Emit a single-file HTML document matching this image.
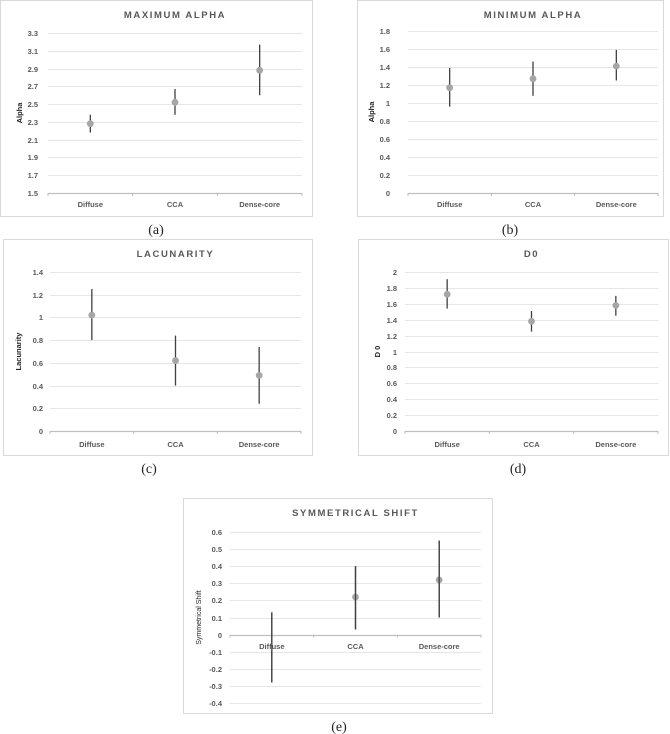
<!DOCTYPE html>
<html><head><meta charset="utf-8">
<style>
html,body{margin:0;padding:0;background:#fff;}
body{width:670px;height:734px;position:relative;overflow:hidden;font-family:"Liberation Sans",sans-serif;}
svg{position:absolute;left:0;top:0;}
.cap{font-family:"Liberation Serif",serif;font-size:14px;fill:#222;}
</style></head>
<body>
<svg id="chart" width="670" height="734" viewBox="0 0 670 734"></svg>
<script>
const categories = ["Diffuse","CCA","Dense-core"];
const maxAlphaMean = [2.28, 2.52, 2.88];
const maxAlphaLow  = [2.18, 2.38, 2.60];
const maxAlphaHigh = [2.38, 2.67, 3.17];
const maxAlphaTicks = ["1.5","1.7","1.9","2.1","2.3","2.5","2.7","2.9","3.1","3.3"];
const minAlphaMean = [1.17, 1.27, 1.41];
const minAlphaLow  = [0.96, 1.08, 1.25];
const minAlphaHigh = [1.39, 1.46, 1.59];
const minAlphaTicks = ["0","0.2","0.4","0.6","0.8","1","1.2","1.4","1.6","1.8"];
const lacMean = [1.02, 0.62, 0.49];
const lacLow  = [0.80, 0.40, 0.24];
const lacHigh = [1.25, 0.84, 0.74];
const lacTicks = ["0","0.2","0.4","0.6","0.8","1","1.2","1.4"];
const d0Mean = [1.72, 1.38, 1.58];
const d0Low  = [1.54, 1.25, 1.45];
const d0High = [1.91, 1.51, 1.70];
const d0Ticks = ["0","0.2","0.4","0.6","0.8","1","1.2","1.4","1.6","1.8","2"];
const symMean = [-0.07, 0.22, 0.32];
const symLow  = [-0.28, 0.03, 0.10];
const symHigh = [0.13, 0.40, 0.55];
const symTicks = ["-0.4","-0.3","-0.2","-0.1","0","0.1","0.2","0.3","0.4","0.5","0.6"];

const NS="http://www.w3.org/2000/svg";
const svg=document.getElementById('chart');
function mk(tag,attrs,parent,text){const e=document.createElementNS(NS,tag);for(const k in attrs)e.setAttribute(k,attrs[k]);if(text!==undefined)e.textContent=text;(parent||svg).appendChild(e);return e;}

function panel(cfg){
  const g=mk('g',{});
  
  
  const b=mk('rect',{x:cfg.box[0]+0.5,y:cfg.box[1]+0.5,width:cfg.box[2]-cfg.box[0],height:cfg.box[3]-cfg.box[1],fill:'#fff',stroke:'#d9d9d9','stroke-width':1},g);
  
  
  const t=mk('text',{x:(cfg.px0+cfg.px1)/2,y:cfg.titleY,'text-anchor':'middle','font-size':'9.5','font-weight':'bold','letter-spacing':'1.6',fill:'#595959'},g,cfg.title);
  
  
  const ticks=cfg.ticks.map(Number);
  const vmin=ticks[0], vmax=ticks[ticks.length-1];
  const y=v=>cfg.yBot-(v-vmin)/(vmax-vmin)*(cfg.yBot-cfg.yTop);
  const n=categories.length, bw=(cfg.px1-cfg.px0)/n;
  const x=i=>cfg.px0+bw*(i+0.5);
  cfg.ticks.forEach((lab,i)=>{
    const v=ticks[i], yy=Math.round(y(v))+0.5;
    const isBase = cfg.base!==undefined ? v===cfg.base : i===0;
    const l=mk('line',{x1:cfg.px0,x2:cfg.px1,y1:yy,y2:yy,stroke:isBase?'#bfbfbf':'#e6e6e6','stroke-width':isBase?1.2:1},g);
    
    
    const tl=mk('text',{x:cfg.tickX,y:yy+2.5,'text-anchor':'end','font-size':'7.5','font-weight':'bold',fill:'#595959'},g,lab);
    
    
  });
  const yt=mk('text',{x:cfg.yTitleX,y:(cfg.yTop+cfg.yBot)/2,'text-anchor':'middle','font-size':cfg.yTitleSize||'7.5','font-weight':cfg.yTitleWeight||'bold',fill:'#222',transform:`rotate(-90 ${cfg.yTitleX} ${(cfg.yTop+cfg.yBot)/2})`},g,cfg.yTitle);
  
  
  const baseY=cfg.base!==undefined?y(cfg.base):cfg.yBot;
  for(let i=0;i<=n;i++){
    const tk=mk('line',{x1:cfg.px0+bw*i,x2:cfg.px0+bw*i,y1:baseY,y2:baseY+3,stroke:'#bfbfbf'},g);
    
    
  }
  categories.forEach((c,i)=>{
    const eb=mk('line',{x1:x(i),x2:x(i),y1:y(cfg.low[i]),y2:y(cfg.high[i]),stroke:'#404040','stroke-width':1.3},g);
    
    
    const p=mk('circle',{cx:x(i),cy:y(cfg.mean[i]),r:3.4,fill:'#a6a6a6'},g);
    
    
  });
  categories.forEach((c,i)=>{
    const attrs={x:x(i),y:cfg.catY,'text-anchor':'middle','font-size':'7.5','font-weight':'bold',fill:'#595959'};
    if(cfg.halo){attrs.stroke='#fff';attrs['stroke-width']=3;attrs['paint-order']='stroke';}
    const cl=mk('text',attrs,g,c);
    
    
    if(cfg.halo){const eb=mk('line',{x1:x(i),x2:x(i),y1:y(cfg.low[i]),y2:y(cfg.high[i]),stroke:'#404040','stroke-width':1.3},g);
      
      }
  });
  const cp=mk('text',{x:cfg.capX,y:cfg.capY,'text-anchor':'middle',class:'cap'},g,cfg.cap);
  
  
}

panel({name:'maximum-alpha',title:'MAXIMUM ALPHA',box:[0,0,312,216],px0:48,px1:302,yTop:33,yBot:193,titleY:18,tickX:38,yTitleX:22,yTitle:'Alpha',ticks:maxAlphaTicks,mean:maxAlphaMean,low:maxAlphaLow,high:maxAlphaHigh,catY:207,cap:'(a)',capX:156,capY:234});
panel({name:'minimum-alpha',title:'MINIMUM ALPHA',box:[357,0,663,216],px0:408,px1:658,yTop:31,yBot:193,titleY:18,tickX:390,yTitleX:374,yTitle:'Alpha',ticks:minAlphaTicks,mean:minAlphaMean,low:minAlphaLow,high:minAlphaHigh,catY:207,cap:'(b)',capX:510,capY:234});
panel({name:'lacunarity',title:'LACUNARITY',box:[3,239,312,455],px0:50,px1:301,yTop:272,yBot:431,titleY:257,tickX:43,yTitleX:21,yTitle:'Lacunarity',ticks:lacTicks,mean:lacMean,low:lacLow,high:lacHigh,catY:447,cap:'(c)',capX:149,capY:473});
panel({name:'d0',title:'D0',box:[358,239,668,455],px0:405,px1:658,yTop:272,yBot:431,titleY:257,tickX:397,yTitleX:380,yTitle:'D 0',ticks:d0Ticks,mean:d0Mean,low:d0Low,high:d0High,catY:447,cap:'(d)',capX:518,capY:473});
panel({name:'symmetrical-shift',title:'SYMMETRICAL SHIFT',box:[183,498,492,713],px0:230,px1:481,yTop:532,yBot:703,titleY:516,tickX:222,yTitleX:201,yTitle:'Symmetrical Shift',yTitleSize:'7',yTitleWeight:'normal',ticks:symTicks,base:0,halo:true,mean:symMean,low:symLow,high:symHigh,catY:649,cap:'(e)',capX:339,capY:731});
</script>
</body></html>
